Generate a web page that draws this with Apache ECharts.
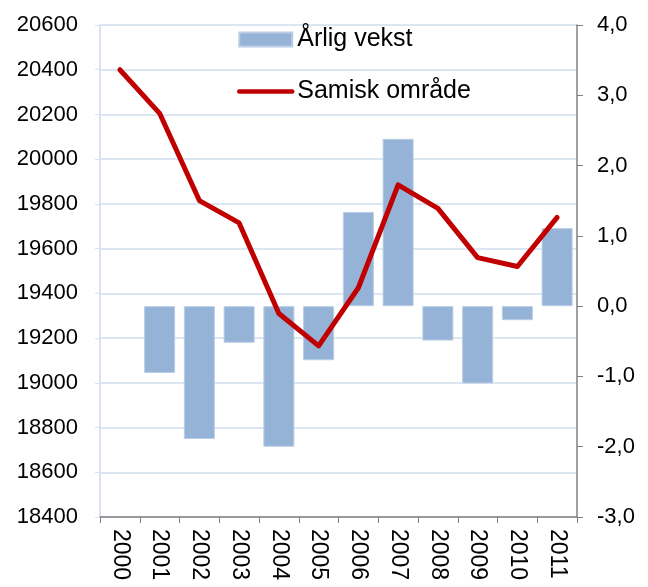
<!DOCTYPE html>
<html>
<head>
<meta charset="utf-8">
<script src="https://cdn.jsdelivr.net/npm/echarts@6/dist/echarts.min.js"></script>
<style>
  html, body { margin: 0; padding: 0; background: #ffffff; }
  #chart { width: 648px; height: 587px; }
</style>
</head>
<body>
<div id="chart"></div>
<script>
// data
const years = ['2000', '2001', '2002', '2003', '2004', '2005', '2006', '2007', '2008', '2009', '2010', '2011'];
const vekst = [null, -0.95, -1.89, -0.52, -2.0, -0.77, 1.34, 2.38, -0.49, -1.10, -0.20, 1.11];
const befolkning = [20400, 20205, 19815, 19715, 19310, 19165, 19425, 19885, 19780, 19560, 19520, 19740];
const leftTicks = { min: 18400, max: 20600, interval: 200 };
const rightTicks = { min: -3, max: 4, interval: 1 };

const chart = echarts.init(document.getElementById('chart'));
const font = 'Liberation Sans, Arial, sans-serif';

const option = {
  backgroundColor: '#ffffff',
  textStyle: { fontFamily: font },
  animation: false,
  grid: { left: 100, right: 71, top: 25, bottom: 70 },
  legend: {
    orient: 'vertical',
    left: 232,
    top: 22,
    itemWidth: 53,
    itemHeight: 14,
    itemGap: 27,
    textStyle: { fontSize: 25, color: '#000', fontFamily: font },
    data: [
      { name: 'Årlig vekst', icon: 'rect' },
      { name: 'Samisk område', itemStyle: { opacity: 0 }, lineStyle: { width: 4.5, cap: 'round' } }
    ]
  },
  xAxis: {
    type: 'category',
    data: years,
    boundaryGap: true,
    axisLine: { onZero: false, lineStyle: { color: '#808080', width: 1.5 } },
    axisTick: { show: true, length: 6, lineStyle: { color: '#808080' } },
    axisLabel: { rotate: -90, fontSize: 23, color: '#000', margin: 12, fontFamily: font }
  },
  yAxis: [
    {
      type: 'value',
      min: leftTicks.min,
      max: leftTicks.max,
      interval: leftTicks.interval,
      position: 'left',
      axisLine: { show: true, lineStyle: { color: '#dae3ef', width: 2 } },
      axisTick: { show: true, length: 5, lineStyle: { color: '#dae3ef' } },
      axisLabel: {
        fontSize: 22, color: '#000', margin: 22, fontFamily: font,
        formatter: function (v) { return String(v); }
      },
      splitLine: { show: true, lineStyle: { color: '#dce6f2', width: 2 } }
    },
    {
      type: 'value',
      min: rightTicks.min,
      max: rightTicks.max,
      interval: rightTicks.interval,
      position: 'right',
      axisLine: { show: true, lineStyle: { color: '#808080', width: 1.5 } },
      axisTick: { show: true, length: 6, lineStyle: { color: '#808080' } },
      axisLabel: {
        fontSize: 22, color: '#000', margin: 20, fontFamily: font,
        formatter: function (v) { return v.toFixed(1).replace('.', ','); }
      },
      splitLine: { show: false }
    }
  ],
  series: [
    {
      name: 'Årlig vekst',
      type: 'bar',
      yAxisIndex: 1,
      data: vekst,
      barCategoryGap: '22%',
      itemStyle: { color: '#95b3d7', borderColor: '#b9cde5', borderWidth: 1 },
      z: 2
    },
    {
      name: 'Samisk område',
      type: 'line',
      yAxisIndex: 0,
      data: befolkning,
      symbol: 'none',
      lineStyle: { color: '#c00000', width: 5, join: 'round', cap: 'round' },
      itemStyle: { color: '#c00000' },
      z: 3
    }
  ]
};
chart.setOption(option);
</script>
</body>
</html>
